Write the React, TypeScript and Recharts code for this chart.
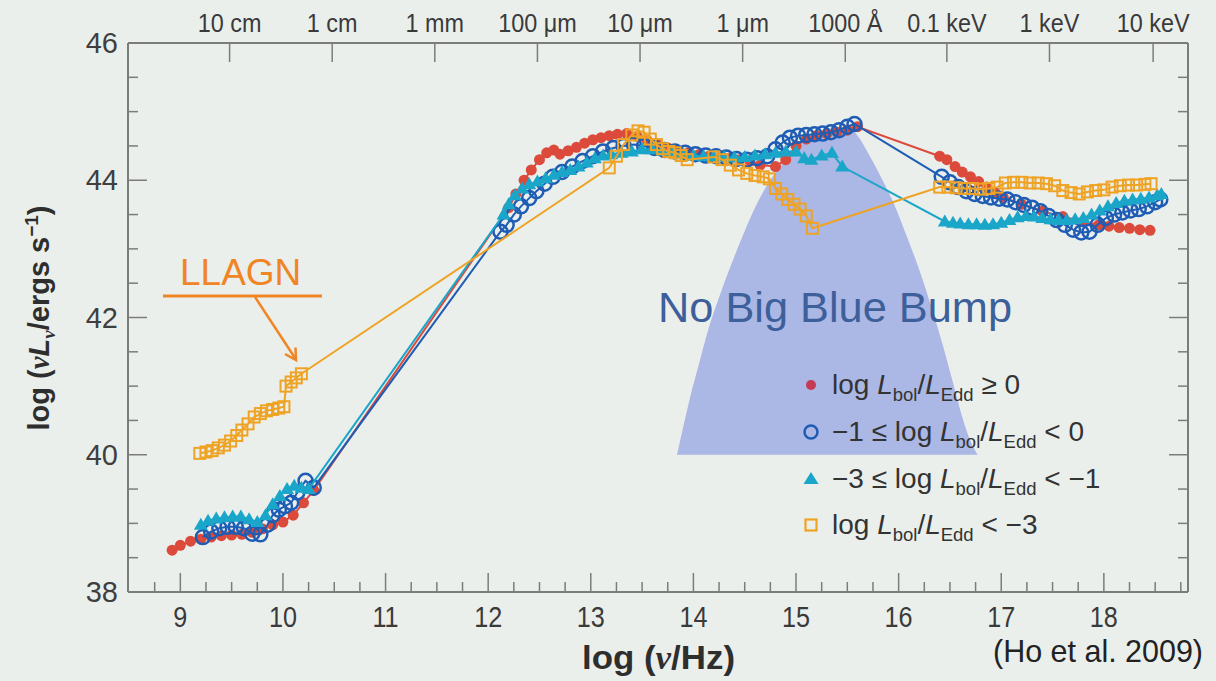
import React from 'react';
import { ComposedChart, XAxis, YAxis, Scatter, Area, Legend } from 'recharts';

type Pt = [number, number];

// ---- data (log nu, log nuLnu) ----
const redPts: Pt[] = [
  [8.92, 38.61], [9.0, 38.68], [9.1, 38.74], [9.2, 38.77], [9.3, 38.8], [9.4, 38.82], [9.5, 38.83], [9.6, 38.84],
  [9.7, 38.87], [9.8, 38.92], [9.9, 38.98], [10.0, 39.02], [10.1, 39.12], [10.2, 39.3], [10.3, 39.48],
  [12.2, 43.6], [12.27, 43.8], [12.35, 44.0], [12.42, 44.15], [12.5, 44.3], [12.57, 44.4], [12.64, 44.44], [12.7, 44.38],
  [12.78, 44.43], [12.86, 44.48], [12.94, 44.54], [13.02, 44.59], [13.1, 44.62], [13.18, 44.65], [13.26, 44.67],
  [13.35, 44.68], [13.45, 44.64], [13.55, 44.58], [13.65, 44.52], [13.75, 44.47], [13.85, 44.43], [13.95, 44.4],
  [14.05, 44.37], [14.15, 44.35], [14.25, 44.33], [14.35, 44.32], [14.45, 44.3], [14.55, 44.28], [14.65, 44.22],
  [14.8, 44.2], [14.9, 44.3], [15.0, 44.5], [15.1, 44.6], [15.2, 44.65], [15.3, 44.68], [15.4, 44.7], [15.5, 44.73],
  [15.6, 44.78],
  [16.4, 44.35], [16.47, 44.3], [16.55, 44.2], [16.62, 44.12], [16.7, 44.05], [16.78, 43.98], [16.86, 43.9],
  [16.94, 43.82], [17.02, 43.75], [17.2, 43.65], [17.4, 43.55], [17.6, 43.47], [17.8, 43.4], [17.95, 43.35],
  [18.05, 43.33], [18.15, 43.31], [18.25, 43.3], [18.35, 43.28], [18.45, 43.27],
];

const bluePts: Pt[] = [
  [9.22, 38.8], [9.3, 38.88], [9.38, 38.93], [9.46, 38.95], [9.54, 38.95], [9.62, 38.93], [9.7, 38.85], [9.78, 38.84],
  [9.85, 38.98], [9.9, 39.12], [9.96, 39.2], [10.02, 39.25], [10.08, 39.3], [10.14, 39.45], [10.22, 39.62], [10.3, 39.52],
  [12.12, 43.25], [12.18, 43.35], [12.25, 43.5], [12.32, 43.62], [12.4, 43.74], [12.47, 43.84], [12.55, 43.95],
  [12.63, 44.05], [12.72, 44.12], [12.82, 44.2], [12.92, 44.28], [13.02, 44.35], [13.12, 44.42], [13.22, 44.47],
  [13.32, 44.5], [13.42, 44.52], [13.52, 44.5], [13.62, 44.47], [13.72, 44.44], [13.82, 44.42], [13.92, 44.4],
  [14.02, 44.38], [14.12, 44.36], [14.22, 44.35], [14.32, 44.33], [14.42, 44.31], [14.52, 44.3], [14.62, 44.32],
  [14.72, 44.35], [14.8, 44.45], [14.87, 44.55], [14.94, 44.62], [15.02, 44.65], [15.1, 44.66], [15.18, 44.67],
  [15.26, 44.68], [15.34, 44.7], [15.42, 44.73], [15.5, 44.78], [15.57, 44.82],
  [16.42, 44.05], [16.5, 43.97], [16.58, 43.9], [16.66, 43.84], [16.74, 43.8], [16.82, 43.77], [16.9, 43.75],
  [16.98, 43.73], [17.06, 43.72], [17.14, 43.68], [17.22, 43.64], [17.3, 43.6], [17.38, 43.55], [17.46, 43.48],
  [17.54, 43.42], [17.62, 43.35], [17.7, 43.28], [17.78, 43.24], [17.86, 43.25], [17.94, 43.35], [18.02, 43.45],
  [18.1, 43.5], [18.18, 43.53], [18.26, 43.56], [18.34, 43.58], [18.42, 43.62], [18.5, 43.68], [18.55, 43.72],
];

const cyanPts: Pt[] = [
  [9.2, 38.98], [9.27, 39.04], [9.35, 39.07], [9.43, 39.09], [9.51, 39.1], [9.59, 39.1], [9.67, 39.06], [9.75, 39.02],
  [9.83, 39.12], [9.9, 39.28], [9.97, 39.4], [10.04, 39.5], [10.11, 39.55], [10.18, 39.52], [10.25, 39.5],
  [12.15, 43.5], [12.2, 43.65], [12.26, 43.78], [12.33, 43.88], [12.4, 43.94], [12.48, 43.98], [12.56, 44.03],
  [12.64, 44.08], [12.72, 44.12], [12.8, 44.15], [12.88, 44.2], [12.96, 44.26], [13.04, 44.32], [13.12, 44.36],
  [13.2, 44.38], [13.3, 44.4], [13.4, 44.42], [13.5, 44.45], [13.6, 44.45], [13.7, 44.43], [13.8, 44.4], [13.9, 44.38],
  [14.0, 44.36], [14.1, 44.35], [14.2, 44.35], [14.3, 44.34], [14.4, 44.33], [14.5, 44.34], [14.6, 44.36], [14.7, 44.38],
  [14.8, 44.4], [14.9, 44.42], [15.0, 44.42], [15.08, 44.32], [15.15, 44.3], [15.25, 44.36], [15.35, 44.4], [15.45, 44.2],
  [16.45, 43.4], [16.53, 43.38], [16.6, 43.37], [16.68, 43.36], [16.76, 43.36], [16.84, 43.35], [16.92, 43.36],
  [17.0, 43.38], [17.08, 43.42], [17.16, 43.46], [17.24, 43.48], [17.32, 43.47], [17.4, 43.45], [17.48, 43.43],
  [17.56, 43.42], [17.64, 43.42], [17.72, 43.43], [17.8, 43.45], [17.88, 43.5], [17.96, 43.56], [18.04, 43.62],
  [18.12, 43.67], [18.2, 43.7], [18.28, 43.72], [18.36, 43.73], [18.44, 43.75], [18.52, 43.78], [18.56, 43.8],
];

const orangePts: Pt[] = [
  [9.19, 40.02], [9.25, 40.04], [9.31, 40.06], [9.37, 40.1], [9.43, 40.14], [9.49, 40.2], [9.55, 40.28], [9.6, 40.36],
  [9.66, 40.45], [9.72, 40.55], [9.78, 40.6], [9.84, 40.64], [9.9, 40.66], [9.96, 40.68], [10.01, 40.7], [10.03, 41.0],
  [10.08, 41.06], [10.13, 41.12], [10.18, 41.18],
  [13.18, 44.18], [13.25, 44.35], [13.32, 44.52], [13.4, 44.66], [13.46, 44.72], [13.52, 44.7], [13.58, 44.6],
  [13.64, 44.52], [13.7, 44.46], [13.76, 44.42], [13.82, 44.4], [13.88, 44.36], [13.94, 44.3],
  [14.2, 44.34], [14.28, 44.3], [14.36, 44.22], [14.44, 44.15], [14.52, 44.1], [14.6, 44.07], [14.68, 44.05],
  [14.74, 44.02], [14.8, 43.88], [14.86, 43.8], [14.92, 43.72], [14.98, 43.65], [15.04, 43.58], [15.1, 43.48], [15.16, 43.3],
  [16.4, 43.9], [16.48, 43.9], [16.56, 43.89], [16.64, 43.88], [16.72, 43.88], [16.8, 43.87], [16.88, 43.88],
  [16.96, 43.9], [17.04, 43.96], [17.12, 43.97], [17.2, 43.97], [17.28, 43.96], [17.36, 43.96], [17.44, 43.95],
  [17.52, 43.92], [17.6, 43.85], [17.68, 43.82], [17.76, 43.8], [17.84, 43.83], [17.92, 43.85], [18.0, 43.86],
  [18.08, 43.9], [18.16, 43.92], [18.24, 43.93], [18.32, 43.93], [18.4, 43.94], [18.46, 43.95],
];

// upper edge of the shaded "big blue bump" region (base at log = 40)
const bumpEdge: Pt[] = [
  [13.84, 40.0], [13.9, 40.4], [13.97, 40.85], [14.05, 41.3], [14.14, 41.8], [14.24, 42.25], [14.35, 42.7],
  [14.47, 43.15], [14.6, 43.6], [14.74, 43.98], [14.9, 44.3], [15.05, 44.52], [15.2, 44.68], [15.35, 44.76],
  [15.5, 44.78], [15.6, 44.65], [15.72, 44.35], [15.85, 43.98], [15.97, 43.6], [16.08, 43.18], [16.2, 42.7],
  [16.32, 42.15], [16.43, 41.6], [16.53, 41.05], [16.62, 40.55], [16.7, 40.2], [16.77, 40.0],
];

const majorX = [9, 10, 11, 12, 13, 14, 15, 16, 17, 18];
const xTicks: number[] = Array.from({ length: 41 }, (_, i) => 8.75 + i * 0.25);
const majorY = [38, 40, 42, 44, 46];
const yTicks: number[] = Array.from({ length: 17 }, (_, i) => 38 + i * 0.5);
const topTickValues = [9.48, 10.48, 11.48, 12.48, 13.48, 14.48, 15.48, 16.47, 17.47, 18.48];
const topTickLabels = ['10 cm', '1 cm', '1 mm', '100 μm', '10 μm', '1 μm', '1000 Å', '0.1 keV', '1 keV', '10 keV'];

const legendRows = [
  { id: 'red', pre: '', post: ' ≥ 0' },
  { id: 'blue', pre: '−1 ≤ ', post: ' < 0' },
  { id: 'cyan', pre: '−3 ≤ ', post: ' < −1' },
  { id: 'orange', pre: '', post: ' < −3' },
];

// ---- styles ----
const RED = '#dc4a3c';
const RED_LEGEND = '#c43a57';
const BLUE = '#1f5db5';
const CYAN = '#1aa6c9';
const ORANGE = '#efa324';
const BUMP = '#abb7e5';
const AX = '#7c7c7c';
const BG = '#ebefec';
const SANS = "'Liberation Sans', Arial, Helvetica, sans-serif";

const toObj = (pts: Pt[]) => pts.map(([x, y]) => ({ x, y }));
const bumpData = bumpEdge.map(([x, top]) => ({ x, top }));
const XMIN = 8.49;
const XMAX = 18.82;

const isMajorX = (v: number) => majorX.some((m) => Math.abs(m - v) < 1e-6);
const isMajorY = (v: number) => majorY.some((m) => Math.abs(m - v) < 1e-6);

function BottomTick(props: any) {
  const { x, y, payload } = props;
  const v = payload.value;
  const major = isMajorX(v);
  return (
    <g>
      <line x1={x} x2={x} y1={y} y2={y - (major ? 19 : 10)} stroke={AX} strokeWidth={1.5} />
      {major && (
        <text
          transform={`translate(${x},${y + 35}) scale(0.84,1)`}
          textAnchor="middle"
          fontSize={30}
          fontFamily={SANS}
          fill="#3a3a3a"
        >
          {Math.round(v)}
        </text>
      )}
    </g>
  );
}

function TopTick(props: any) {
  const { x, y, index } = props;
  return (
    <g>
      <line x1={x} x2={x} y1={y} y2={y + 19} stroke={AX} strokeWidth={1.5} />
      <text
        transform={`translate(${x},${y - 11}) scale(0.9,1)`}
        textAnchor="middle"
        fontSize={26}
        fontFamily={SANS}
        fill="#3a3a3a"
      >
        {topTickLabels[index] ?? ''}
      </text>
    </g>
  );
}

function LeftTick(props: any) {
  const { x, y, payload } = props;
  const v = payload.value;
  const major = isMajorY(v);
  return (
    <g>
      <line x1={x} x2={x + (major ? 19 : 10)} y1={y} y2={y} stroke={AX} strokeWidth={1.5} />
      {major && (
        <text x={x - 10} y={y + 10} textAnchor="end" fontSize={29} fontFamily={SANS} fill="#3f3f3f">
          {Math.round(v)}
        </text>
      )}
    </g>
  );
}

function RightTick(props: any) {
  const { x, y, payload } = props;
  const major = isMajorY(payload.value);
  return <line x1={x} x2={x - (major ? 19 : 10)} y1={y} y2={y} stroke={AX} strokeWidth={1.5} />;
}

const RedDot = (p: any) => <circle cx={p.cx} cy={p.cy} r={5.5} fill={RED} />;
const BlueCircle = (p: any) => <circle cx={p.cx} cy={p.cy} r={7} fill="none" stroke={BLUE} strokeWidth={2.5} />;
const CyanTri = (p: any) => (
  <polygon points={`${p.cx},${p.cy - 7} ${p.cx - 7},${p.cy + 5} ${p.cx + 7},${p.cy + 5}`} fill={CYAN} />
);
const OrangeSq = (p: any) => (
  <rect x={p.cx - 5.5} y={p.cy - 5.5} width={11} height={11} fill="none" stroke={ORANGE} strokeWidth={2} />
);

function LegendSymbol({ id }: { id: string }) {
  return (
    <svg width={22} height={22} style={{ display: 'block' }}>
      {id === 'red' && <circle cx={11} cy={11} r={5} fill={RED_LEGEND} />}
      {id === 'blue' && <circle cx={11} cy={11} r={6.5} fill="none" stroke={BLUE} strokeWidth={2.5} />}
      {id === 'cyan' && <polygon points="11,4 3.5,16 18.5,16" fill={CYAN} />}
      {id === 'orange' && <rect x={5.5} y={5.5} width={11} height={11} fill="none" stroke={ORANGE} strokeWidth={2.2} />}
    </svg>
  );
}

const subStyle: React.CSSProperties = { fontSize: '0.66em', position: 'relative', top: '0.38em' };

function LegendContent() {
  return (
    <div style={{ fontFamily: SANS, fontSize: 28, color: '#333' }}>
      {legendRows.map((r) => (
        <div key={r.id} style={{ display: 'flex', alignItems: 'center', height: 46.7, whiteSpace: 'nowrap' }}>
          <LegendSymbol id={r.id} />
          <span style={{ marginLeft: 10 }}>
            {r.pre}log <i>L</i>
            <span style={subStyle}>bol</span>/<i>L</i>
            <span style={subStyle}>Edd</span>
            {r.post}
          </span>
        </div>
      ))}
    </div>
  );
}

export default function App() {
  return (
    <div style={{ position: 'absolute', left: 0, top: 0, width: 1216, height: 681, background: BG, overflow: 'hidden' }}>
      <ComposedChart
        width={1216}
        height={681}
        data={bumpData}
        margin={{ top: 42, right: 27, bottom: 0, left: 0 }}
      >
        <XAxis
          dataKey="x"
          type="number"
          domain={[XMIN, XMAX]}
          ticks={xTicks}
          interval={0}
          tick={BottomTick}
          tickLine={false}
          tickSize={0}
          tickMargin={0}
          height={89}
          axisLine={{ stroke: AX, strokeWidth: 2 }}
          allowDataOverflow
        />
        <XAxis
          xAxisId="top"
          orientation="top"
          dataKey="x"
          type="number"
          domain={[XMIN, XMAX]}
          ticks={topTickValues}
          interval={0}
          tick={TopTick}
          tickLine={false}
          tickSize={0}
          tickMargin={0}
          height={1}
          axisLine={{ stroke: AX, strokeWidth: 2 }}
          allowDataOverflow
        />
        <YAxis
          dataKey="y"
          type="number"
          domain={[38, 46]}
          ticks={yTicks}
          interval={0}
          tick={LeftTick}
          tickLine={false}
          tickSize={0}
          tickMargin={0}
          width={128}
          axisLine={{ stroke: AX, strokeWidth: 2 }}
          allowDataOverflow
        />
        <YAxis
          yAxisId="right"
          orientation="right"
          type="number"
          domain={[38, 46]}
          ticks={yTicks}
          interval={0}
          tick={RightTick}
          tickLine={false}
          tickSize={0}
          tickMargin={0}
          width={1}
          axisLine={{ stroke: AX, strokeWidth: 2 }}
          allowDataOverflow
        />
        <Area
          xAxisId="top"
          yAxisId="right"
          dataKey="top"
          type="monotone"
          baseValue={40}
          fill={BUMP}
          fillOpacity={1}
          stroke="none"
          isAnimationActive={false}
        />
        <Scatter data={toObj(redPts)} shape={RedDot} line={{ stroke: RED, strokeWidth: 2 }} isAnimationActive={false} />
        <Scatter data={toObj(bluePts)} shape={BlueCircle} line={{ stroke: BLUE, strokeWidth: 2 }} isAnimationActive={false} />
        <Scatter data={toObj(cyanPts)} shape={CyanTri} line={{ stroke: CYAN, strokeWidth: 2 }} isAnimationActive={false} />
        <Scatter data={toObj(orangePts)} shape={OrangeSq} line={{ stroke: ORANGE, strokeWidth: 2 }} isAnimationActive={false} />
        <Legend
          layout="vertical"
          align="center"
          verticalAlign="middle"
          content={() => <LegendContent />}
          wrapperStyle={{ left: 800, top: 362, width: 360 }}
        />
      </ComposedChart>
      <svg
        width={1216}
        height={681}
        style={{ position: 'absolute', left: 0, top: 0, pointerEvents: 'none' }}
      >
        <text x={180} y={285} fontSize={37} fontFamily={SANS} fill="#f08526">LLAGN</text>
        <line x1={163} y1={296} x2={322} y2={296} stroke="#f08526" strokeWidth={3} />
        <line x1={255} y1={297} x2={295} y2={358} stroke="#f08526" strokeWidth={2.5} />
        <polyline points="285,354 296,360 295.5,347.5" fill="none" stroke="#f08526" strokeWidth={2.5} />
        <text x={658} y={322} fontSize={42} fontFamily={SANS} fill="#3d5f9a" textLength={354} lengthAdjust="spacingAndGlyphs">
          No Big Blue Bump
        </text>
        <text
          x={582}
          y={669}
          fontSize={33}
          fontWeight="bold"
          fontFamily={SANS}
          fill="#2e2e2e"
          textLength={153}
          lengthAdjust="spacingAndGlyphs"
        >
          log (<tspan fontStyle="italic" fontFamily="'Liberation Serif', serif">ν</tspan>/Hz)
        </text>
        <text
          transform="translate(49,318) rotate(-90)"
          textAnchor="middle"
          fontSize={29}
          fontWeight="bold"
          fontFamily={SANS}
          fill="#2e2e2e"
        >
          log (<tspan fontStyle="italic" fontFamily="'Liberation Serif', serif">ν</tspan>
          <tspan fontStyle="italic">L</tspan>
          <tspan fontStyle="italic" fontSize={19} fontFamily="'Liberation Serif', serif" dy={6}>ν</tspan>
          <tspan dy={-6}>/ergs s</tspan>
          <tspan fontSize={19} dy={-11}>−1</tspan>
          <tspan dy={11}>)</tspan>
        </text>
        <text
          x={993}
          y={662}
          fontSize={32}
          fontFamily={SANS}
          fill="#222"
          textLength={210}
          lengthAdjust="spacingAndGlyphs"
        >
          (Ho et al. 2009)
        </text>
      </svg>
    </div>
  );
}
